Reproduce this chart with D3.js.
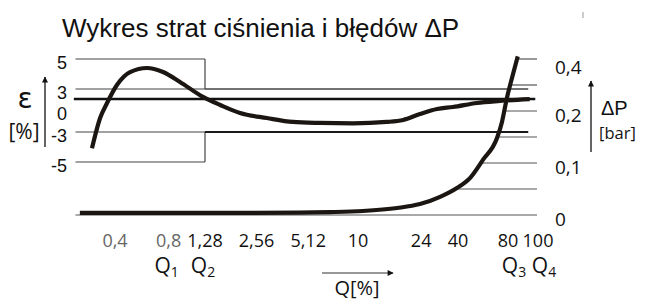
<!DOCTYPE html>
<html>
<head>
<meta charset="utf-8">
<script src="https://cdn.jsdelivr.net/npm/d3@7"></script>
<style>
  body { margin: 0; background: #fff; }
  svg { display: block; }
</style>
</head>
<body>
<div id="chart"></div>
<script>
// størrelse på tegningen
var width = 649,
    height = 300;

var title = "Wykres strat ciśnienia i błędów ΔP";

// x-akse: flow Q i %
var qTicks = [0.4, 0.8, 1.28, 2.56, 5.12, 10, 24, 40, 80, 100];
var qTickLabels = ["0,4", "0,8", "1,28", "2,56", "5,12", "10", "24", "40", "80", "100"];
var qGreyTicks = [0.4, 0.8];
var qMarks = [0.8, 1.28, 80, 100];
var qMarkSubs = ["1", "2", "3", "4"];

// venstre akse: fejl epsilon i %
var epsTicks = [5, 3, 0, -3, -5];
var epsLowLimits = [5, -5];   // fra start til Q2
var epsHighLimits = [3, -3];  // fra Q2 til slut
var epsRef = 1.6;

// højre akse: tryktab i bar
var dpTicks = [0, 0.1, 0.2, 0.4];
var dpTickLabels = ["0", "0,1", "0,2", "0,4"];
var dpGrid = [0, 0.05, 0.1, 0.15, 0.2, 0.3, 0.4];

// fejlkurven
var epsQ = [0.297, 0.33, 0.361, 0.41, 0.486, 0.605, 0.744, 0.926, 1.247, 1.57, 2.05, 2.94, 4.17, 6.0, 9.35, 14.9, 18.7, 23.6, 29.9, 37.3, 52, 71.6, 94];
var epsVal = [-4.09, -1.05, 1.05, 3.27, 4.13, 4.4, 4.13, 3.47, 1.9, 0.77, -0.35, -1.05, -1.6, -1.74, -1.8, -1.6, -1.32, -0.49, 0.21, 0.49, 1.05, 1.33, 1.6];

// tryktabskurven
var dpQ = [0.254, 1.28, 4.5, 6.86, 10.7, 17.2, 23.6, 31.2, 39.4, 47.2, 56.5, 68.7, 73.6, 78.8, 82.4, 86];
var dpVal = [0.004, 0.004, 0.0045, 0.0055, 0.0077, 0.0135, 0.021, 0.035, 0.052, 0.071, 0.106, 0.148, 0.179, 0.25, 0.327, 0.41];

var qStart = 0.24, qEnd = 100, qLimitEnd = 93, qRefStart = 0.235, qRefEnd = 98;

var numFont = "'Open Sans', sans-serif";
var arialFont = "'Liberation Sans', Arial, sans-serif";

// skalaer (stykkevis, tegningen er skematisk)
var x = d3.scaleLog()
    .domain([0.4, 1.28, 10, 80, 100])
    .range([115, 205, 358, 508, 538]);

var yE = d3.scaleLinear()
    .domain([-5, -3, 3, 5])
    .range([162, 132, 89, 59]);

var yP = d3.scaleLinear()
    .domain([0, 0.2, 0.4])
    .range([215, 111, 59]);

var svg = d3.select("#chart")
    .append("svg")
    .attr("width", width)
    .attr("height", height);

svg.append("defs").append("marker")
    .attr("id", "arrow")
    .attr("viewBox", "0 0 10 10")
    .attr("refX", 9)
    .attr("refY", 5)
    .attr("markerWidth", 9)
    .attr("markerHeight", 6)
    .attr("markerUnits", "userSpaceOnUse")
    .attr("orient", "auto")
    .append("path")
    .attr("d", "M0,0L10,5L0,10Z")
    .attr("fill", "#111");

// titel
svg.append("text")
    .attr("x", 62)
    .attr("y", 37)
    .attr("font-family", arialFont)
    .attr("font-size", 26)
    .attr("fill", "#111")
    .text(title);

// lille streg øverst til højre
svg.append("line")
    .attr("x1", 583).attr("x2", 583)
    .attr("y1", 12).attr("y2", 18)
    .attr("stroke", "#999")
    .attr("stroke-width", 1);

// grænser for fejl: 5/-5 op til Q2, 3/-3 derefter
var q2 = qMarks[1];
epsLowLimits.forEach(function(v, i) {
    svg.append("line")
        .attr("x1", x(qStart)).attr("x2", x(q2))
        .attr("y1", yE(v)).attr("y2", yE(v))
        .attr("stroke", "#444").attr("stroke-width", 1.2);
    svg.append("line")
        .attr("x1", x(q2)).attr("x2", x(q2))
        .attr("y1", yE(v)).attr("y2", yE(epsHighLimits[i]))
        .attr("stroke", "#444").attr("stroke-width", 1.2);
});

epsHighLimits.forEach(function(v, i) {
    // venstre del tynd
    svg.append("line")
        .attr("x1", x(qStart)).attr("x2", x(q2))
        .attr("y1", yE(v)).attr("y2", yE(v))
        .attr("stroke", "#444").attr("stroke-width", 1.2);
    svg.append("line")
        .attr("x1", x(q2)).attr("x2", x(qLimitEnd))
        .attr("y1", yE(v)).attr("y2", yE(v))
        .attr("stroke", i === 0 ? "#444" : "#1a1a1a")
        .attr("stroke-width", i === 0 ? 1.3 : 1.9);
});

// tyk referencelinje
svg.append("line")
    .attr("x1", x(qRefStart)).attr("x2", x(qRefEnd))
    .attr("y1", yE(epsRef)).attr("y2", yE(epsRef))
    .attr("stroke", "#111").attr("stroke-width", 2.6);

// vandrette linjer for tryktab: fra kurven ud til højre akse
function qAtDp(v) {
    if (v <= dpVal[0]) return qStart;
    for (var i = 1; i < dpVal.length; i++) {
        if (dpVal[i] >= v) {
            var t = (v - dpVal[i - 1]) / (dpVal[i] - dpVal[i - 1]);
            var a = Math.log(dpQ[i - 1]), b = Math.log(dpQ[i]);
            return Math.exp(a + t * (b - a));
        }
    }
    return dpQ[dpQ.length - 1];
}

svg.selectAll(".dpgrid")
    .data(dpGrid)
    .enter().append("line")
    .attr("class", "dpgrid")
    .attr("x1", function(d) { return x(qAtDp(d)); })
    .attr("x2", x(qEnd) - 1)
    .attr("y1", function(d) { return yP(d); })
    .attr("y2", function(d) { return yP(d); })
    .attr("stroke", "#555")
    .attr("stroke-width", 1.2);

// kurver
var epsData = epsQ.map(function(q, i) { return [q, epsVal[i]]; });
var dpData = dpQ.map(function(q, i) { return [q, dpVal[i]]; });

var epsLine = d3.line()
    .x(function(d) { return x(d[0]); })
    .y(function(d) { return yE(d[1]); })
    .curve(d3.curveMonotoneX);

var dpLine = d3.line()
    .x(function(d) { return x(d[0]); })
    .y(function(d) { return yP(d[1]); })
    .curve(d3.curveMonotoneX);

svg.append("path")
    .datum(dpData)
    .attr("d", dpLine)
    .attr("fill", "none")
    .attr("stroke", "#1c1612")
    .attr("stroke-width", 4.2);

svg.append("path")
    .datum(epsData)
    .attr("d", epsLine)
    .attr("fill", "none")
    .attr("stroke", "#1c1612")
    .attr("stroke-width", 4.2);

// venstre tal
svg.selectAll(".epslab")
    .data(epsTicks)
    .enter().append("text")
    .attr("class", "epslab")
    .attr("x", 67)
    .attr("y", function(d) { return yE(d) + 9.5; })
    .attr("text-anchor", "end")
    .attr("font-family", arialFont)
    .attr("font-size", 18)
    .attr("fill", "#111")
    .text(function(d) { return d; });

// epsilon-pil og enhed
svg.append("line")
    .attr("x1", 45).attr("x2", 45)
    .attr("y1", 147).attr("y2", 77)
    .attr("stroke", "#111").attr("stroke-width", 1.3)
    .attr("marker-end", "url(#arrow)");

svg.append("text")
    .attr("x", 25).attr("y", 108)
    .attr("text-anchor", "middle")
    .attr("font-family", "'DejaVu Sans', sans-serif")
    .attr("font-size", 28)
    .attr("fill", "#111")
    .text("ε");

svg.append("text")
    .attr("x", 24).attr("y", 139)
    .attr("text-anchor", "middle")
    .attr("font-family", numFont)
    .attr("font-size", 21)
    .attr("fill", "#111")
    .text("[%]");

// højre tal
svg.selectAll(".dplab")
    .data(dpTicks)
    .enter().append("text")
    .attr("class", "dplab")
    .attr("x", 555)
    .attr("y", function(d) { return yP(d) + (d === 0.4 ? 15 : 11); })
    .attr("font-family", numFont)
    .attr("font-size", 19)
    .attr("fill", "#111")
    .text(function(d, i) { return dpTickLabels[i]; });

// ΔP-pil og enhed
svg.append("line")
    .attr("x1", 591).attr("x2", 591)
    .attr("y1", 152).attr("y2", 81)
    .attr("stroke", "#111").attr("stroke-width", 1.3)
    .attr("marker-end", "url(#arrow)");

svg.append("text")
    .attr("x", 601).attr("y", 115)
    .attr("font-family", arialFont)
    .attr("font-size", 20)
    .attr("fill", "#111")
    .text("ΔP");

svg.append("text")
    .attr("x", 599).attr("y", 139)
    .attr("font-family", numFont)
    .attr("font-size", 16.5)
    .attr("fill", "#111")
    .text("[bar]");

// x-aksens tal
svg.selectAll(".qlab")
    .data(qTicks)
    .enter().append("text")
    .attr("class", "qlab")
    .attr("x", function(d) { return x(d); })
    .attr("y", 247)
    .attr("text-anchor", "middle")
    .attr("font-family", numFont)
    .attr("font-size", 18)
    .attr("fill", function(d) { return qGreyTicks.indexOf(d) >= 0 ? "#666" : "#111"; })
    .text(function(d, i) { return qTickLabels[i]; });

// Q1..Q4
var qm = svg.selectAll(".qmark")
    .data(qMarks)
    .enter().append("text")
    .attr("class", "qmark")
    .attr("x", function(d, i) { return x(d) + (i >= 2 ? 6 : -2); })
    .attr("y", 273)
    .attr("text-anchor", "middle")
    .attr("font-family", numFont)
    .attr("font-size", 21)
    .attr("fill", "#111");

qm.append("tspan").text("Q");
qm.append("tspan")
    .attr("font-size", 14)
    .attr("dy", 4)
    .text(function(d, i) { return qMarkSubs[i]; });

// Q-pil og enhed
svg.append("line")
    .attr("x1", 322).attr("x2", 393)
    .attr("y1", 273).attr("y2", 273)
    .attr("stroke", "#333").attr("stroke-width", 1.2)
    .attr("marker-end", "url(#arrow)");

svg.append("text")
    .attr("x", 357).attr("y", 295)
    .attr("text-anchor", "middle")
    .attr("font-family", numFont)
    .attr("font-size", 20)
    .attr("fill", "#111")
    .text("Q[%]");
</script>
</body>
</html>
